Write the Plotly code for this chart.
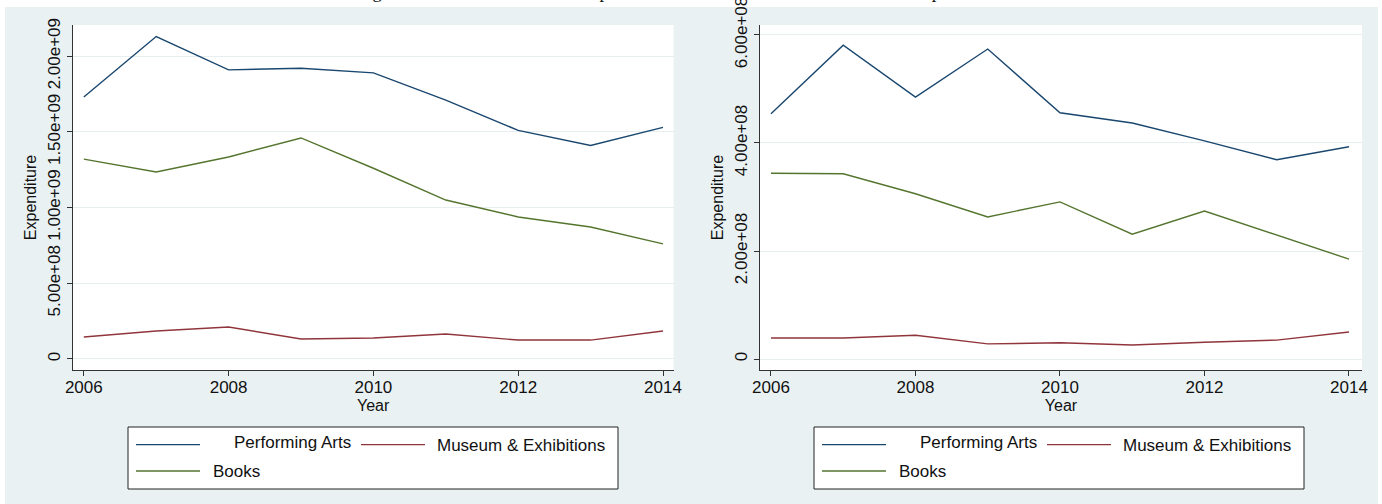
import plotly.graph_objects as go

W, H = 1382, 504

years = [2006, 2007, 2008, 2009, 2010, 2011, 2012, 2013, 2014]

# Left panel (nominal)
left_performing = [1.73e9, 2.13e9, 1.91e9, 1.92e9, 1.89e9, 1.71e9, 1.51e9, 1.41e9, 1.53e9]
left_books = [1.32e9, 1.235e9, 1.334e9, 1.46e9, 1.26e9, 1.05e9, 0.938e9, 0.872e9, 0.76e9]
left_museum = [1.45e8, 1.85e8, 2.11e8, 1.32e8, 1.39e8, 1.65e8, 1.25e8, 1.25e8, 1.85e8]

# Right panel
right_performing = [4.54e8, 5.81e8, 4.85e8, 5.74e8, 4.56e8, 4.37e8, 4.04e8, 3.69e8, 3.93e8]
right_books = [3.44e8, 3.43e8, 3.06e8, 2.63e8, 2.91e8, 2.31e8, 2.74e8, 2.30e8, 1.85e8]
right_museum = [0.39e8, 0.39e8, 0.44e8, 0.28e8, 0.30e8, 0.26e8, 0.31e8, 0.35e8, 0.50e8]

x_tickvals = [2006, 2008, 2010, 2012, 2014]
left_tickvals = [0, 5e8, 1e9, 1.5e9, 2e9]
left_ticktext = ["0", "5.00e+08", "1.00e+09", "1.50e+09", "2.00e+09"]
right_tickvals = [0, 2e8, 4e8, 6e8]
right_ticktext = ["0", "2.00e+08", "4.00e+08", "6.00e+08"]

series_names = ["Performing Arts", "Museum & Exhibitions", "Books"]
series_colors = ["#1A476F", "#90353B", "#55752F"]

BG = "#EAF1F3"
GRID = "#E6EEF0"
AXC = "#333333"
FONT = "Liberation Sans, Arial, sans-serif"


def px_x(p):
    return p / W


def px_y(p):
    return 1 - p / H


fig = go.Figure()

left_data = [left_performing, left_museum, left_books]
right_data = [right_performing, right_museum, right_books]
for vals, col in zip(left_data, series_colors):
    fig.add_trace(go.Scatter(x=years, y=vals, mode="lines", line=dict(color=col, width=1.4),
                             xaxis="x", yaxis="y", showlegend=False))
for vals, col in zip(right_data, series_colors):
    fig.add_trace(go.Scatter(x=years, y=vals, mode="lines", line=dict(color=col, width=1.4),
                             xaxis="x2", yaxis="y2", showlegend=False))

plot_top, plot_bot = 25, 370
left_x0, left_x1 = 72.8, 673.5
right_x0, right_x1 = 760, 1362

common_x = dict(
    showgrid=False, zeroline=False, showline=True, linecolor=AXC, linewidth=1,
    ticks="outside", ticklen=5, tickcolor=AXC, tickwidth=1, automargin=False,
    tickvals=x_tickvals, tickfont=dict(family=FONT, size=17, color="#111"),
    ticklabelstandoff=-3,
    title=dict(text="Year", font=dict(family=FONT, size=16, color="#111"), standoff=2),
    fixedrange=True,
)
common_y = dict(
    showgrid=True, gridcolor=GRID, gridwidth=1, zeroline=False, showline=True,
    linecolor=AXC, linewidth=1, ticks="outside", ticklen=5, tickcolor=AXC, tickwidth=1,
    tickangle=-90, tickfont=dict(family=FONT, size=17, color="#111"), automargin=False,
    ticklabeloverflow="allow",
    title=dict(text="Expenditure", font=dict(family=FONT, size=16, color="#111"), standoff=4),
    fixedrange=True,
)

fig.update_layout(
    template="none",
    width=W, height=H, autosize=False,
    margin=dict(l=0, r=0, t=0, b=0, autoexpand=False),
    paper_bgcolor=BG, plot_bgcolor="white",
    showlegend=False,
    xaxis=dict(common_x, domain=[px_x(left_x0), px_x(left_x1)], range=[2005.848, 2014.145], anchor="y"),
    yaxis=dict(common_y, domain=[px_y(plot_bot), px_y(plot_top)], range=[-7.27e7, 2.2061e9],
               tickvals=left_tickvals, ticktext=left_ticktext, anchor="x"),
    xaxis2=dict(common_x, domain=[px_x(right_x0), px_x(right_x1)], range=[2005.848, 2014.18], anchor="y2"),
    yaxis2=dict(common_y, domain=[px_y(plot_bot), px_y(plot_top)], range=[-2.037e7, 6.185e8],
                tickvals=right_tickvals, ticktext=right_ticktext, anchor="x2"),
)

shapes = []
annotations = []
# white page margins around the bluish graph region
shapes.append(dict(type="rect", xref="paper", yref="paper", x0=0, x1=1, y0=px_y(7), y1=1,
                   fillcolor="white", line=dict(width=0), layer="below"))
shapes.append(dict(type="rect", xref="paper", yref="paper", x0=0, x1=px_x(5), y0=0, y1=1,
                   fillcolor="white", line=dict(width=0), layer="below"))
shapes.append(dict(type="rect", xref="paper", yref="paper", x0=px_x(1378), x1=1, y0=0, y1=1,
                   fillcolor="white", line=dict(width=0), layer="below"))

# legends
for bx in (128, 814):
    shapes.append(dict(type="rect", xref="paper", yref="paper",
                       x0=px_x(bx), x1=px_x(bx + 490), y0=px_y(489), y1=px_y(427),
                       fillcolor="white", line=dict(color="#222", width=1), layer="above"))
    items = [
        (series_colors[0], 8, 72, 444.6, series_names[0], 104, 442),
        (series_colors[1], 233, 297, 444.6, series_names[1], 307, 445.5),
        (series_colors[2], 8, 72, 471, series_names[2], 83, 471),
    ]
    for col, s0, s1, sy, name, tx, ty in items:
        shapes.append(dict(type="line", xref="paper", yref="paper",
                           x0=px_x(bx + s0), x1=px_x(bx + s1), y0=px_y(sy), y1=px_y(sy),
                           line=dict(color=col, width=1.4), layer="above"))
        annotations.append(dict(text=name, xref="paper", yref="paper", x=px_x(bx + tx), y=px_y(ty),
                                xanchor="left", yanchor="middle", showarrow=False,
                                font=dict(family=FONT, size=17, color="#111")))

# title (cut off by the top edge, as in the source image)
annotations.append(dict(
    text="Figure 3: Cultural Household Expenditure in Nominal Terms / Real Terms Expenditure",
    xref="paper", yref="paper", x=px_x(679), y=px_y(4), xanchor="center", yanchor="bottom",
    showarrow=False, font=dict(family="Liberation Serif, serif", size=18.5, color="#111")))

fig.update_layout(shapes=shapes, annotations=annotations)

fig.write_html("out.html")
